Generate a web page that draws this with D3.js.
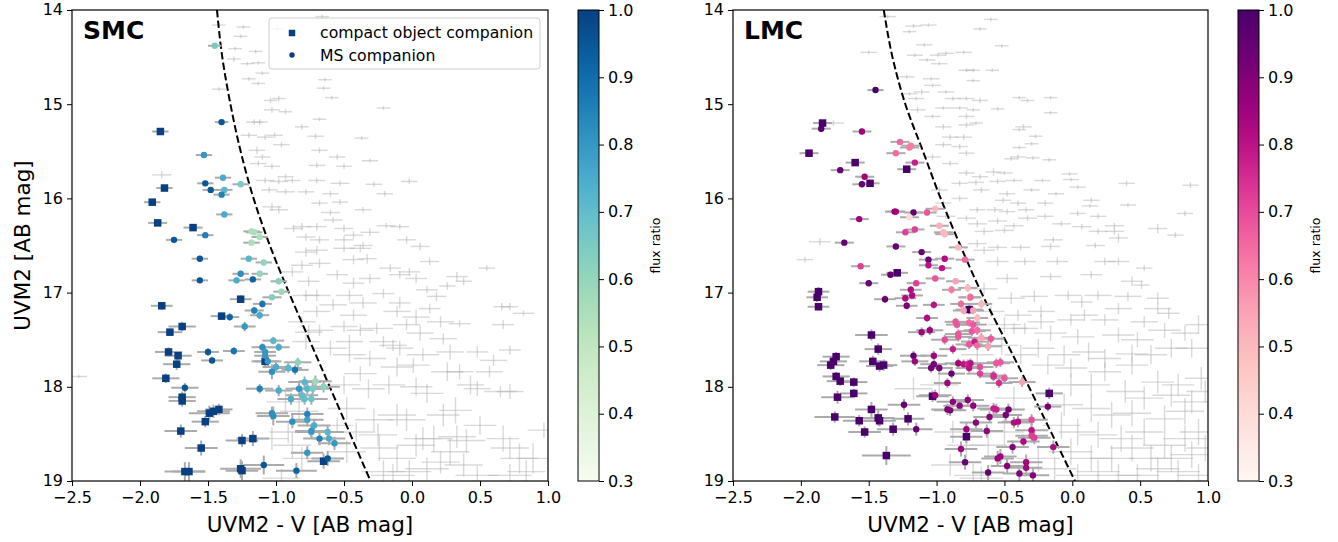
<!DOCTYPE html>
<html><head><meta charset="utf-8">
<script src="https://cdn.jsdelivr.net/npm/d3@7"></script>
<style>body{margin:0;background:#fff}svg{display:block}text{font-family:"DejaVu Sans",sans-serif;fill:#000}</style>
</head><body><svg id="c" width="1338" height="542"></svg>
<script>
const xDomain=[-2.5,1.0], yDomain=[14,19], cbDomain=[0.3,1.0];
const xTicks=[-2.5,-2.0,-1.5,-1.0,-0.5,0.0,0.5,1.0];
const yTicks=[14,15,16,17,18,19];
const cbTicks=[0.3,0.4,0.5,0.6,0.7,0.8,0.9,1.0];
const panelTitles=["SMC","LMC"];
const legendLabels=["compact object companion","MS companion"];
const xLabel="UVM2 - V [AB mag]", yLabel="UVM2 [AB mag]", cbLabel="flux ratio";

// dashed boundary lines [UVM2, UVM2-V]
const smcLine=[[14,-1.434],[14.5,-1.395],[15,-1.335],[15.5,-1.26],[16,-1.165],[16.5,-1.045],[17,-0.905],[17.5,-0.755],[18,-0.605],[18.5,-0.455],[19,-0.305]];
const lmcLine=[[14,-1.389],[14.5,-1.325],[15,-1.23],[15.5,-1.10],[16,-0.97],[16.5,-0.825],[17,-0.67],[17.5,-0.495],[18,-0.32],[18.5,-0.15],[19,0.02]];

// compact object companions [x, y, flux, xerr, yerr]
const smcCompact=[[-1.85,15.29,1,.06,.03],[-1.82,15.89,1,.06,.03],[-1.91,16.04,1,.06,.03],[-1.87,16.26,1,.07,.03],[-1.61,16.31,1,.07,.03],[-1.26,17.07,1,.08,.04],[-1.84,17.14,1,.08,.04],[-1.40,17.25,1,.08,.04],[-1.69,17.36,1,.1,.05],[-1.78,17.42,1,.09,.04],[-1.79,17.63,1,.1,.05],[-1.72,17.67,1,.1,.05],[-1.73,17.76,1,.1,.06],[-1.08,17.73,1,.1,.06],[-1.81,17.91,1,.1,.05],[-1.69,18.11,1,.1,.06],[-1.69,18.15,1,.1,.06],[-1.49,18.28,1,.15,.08],[-1.46,18.26,1,.12,.07],[-1.42,18.24,1,.1,.06],[-1.52,18.37,1,.1,.06],[-1.70,18.47,1,.12,.07],[-1.55,18.65,1,.12,.08],[-1.25,18.57,1,.12,.07],[-1.17,18.55,1,.12,.08],[-1.67,18.90,1,.15,.1],[-1.64,18.90,1,.12,.1],[-1.26,18.87,1,.15,.1],[-1.25,18.89,1,.12,.1],[-0.65,18.79,1,.12,.08]];
const lmcCompact=[[-1.84,15.20,1,.07,.03],[-1.94,15.52,1,.07,.03],[-1.60,15.62,1,.07,.03],[-1.22,15.69,1,.07,.03],[-1.49,15.84,1,.07,.03],[-1.29,16.79,1,.08,.04],[-1.87,16.99,1,.08,.05],[-1.88,17.05,1,.08,.05],[-1.87,17.15,1,.08,.04],[-0.76,17.18,1,.1,.05],[-1.48,17.45,1,.12,.06],[-1.43,17.60,1,.1,.06],[-1.47,17.73,1,.1,.06],[-1.42,17.78,1,.1,.06],[-1.39,17.77,1,.1,.06],[-1.74,17.68,1,.1,.05],[-1.76,17.73,1,.1,.05],[-1.78,17.77,1,.1,.05],[-1.74,17.89,1,.1,.05],[-1.71,17.94,1,.1,.05],[-1.61,17.95,1,.1,.05],[-1.61,18.07,1,.1,.05],[-1.73,18.11,1,.12,.07],[-1.75,18.32,1,.15,.06],[-1.48,18.24,1,.12,.08],[-1.57,18.36,1,.12,.06],[-1.43,18.33,1,.12,.08],[-1.42,18.36,1,.12,.06],[-1.53,18.48,1,.12,.06],[-1.32,18.45,1,.12,.07],[-1.21,18.34,1,.12,.07],[-1.37,18.73,1,.18,.1],[-1.03,18.10,1,.12,.06],[-0.78,18.53,1,.12,.07],[-0.17,18.07,1,.1,.06]];

// main-sequence companions [x, y, flux, xerr, yerr]
const smcMS=[[-1.45,14.38,.65,.05,.02],[-1.40,15.19,.95,.05,.02],[-1.53,15.54,.80,.06,.03],[-1.39,15.78,.75,.06,.03],[-1.52,15.84,.95,.06,.03],[-1.26,15.85,.65,.06,.03],[-1.48,15.91,.95,.06,.03],[-1.38,15.91,.72,.06,.03],[-1.40,15.96,.85,.06,.03],[-1.38,16.17,.75,.06,.03],[-1.52,16.39,.85,.06,.03],[-1.75,16.44,.95,.06,.03],[-1.18,16.35,.55,.06,.03],[-1.16,16.36,.55,.06,.03],[-1.12,16.41,.55,.06,.03],[-1.18,16.47,.55,.06,.03],[-1.56,16.64,.95,.06,.03],[-1.20,16.64,.72,.06,.03],[-1.09,16.68,.6,.06,.03],[-1.56,16.87,.95,.06,.03],[-1.26,16.80,.82,.06,.03],[-1.29,16.87,.75,.06,.03],[-1.17,16.86,.92,.06,.03],[-1.12,16.80,.6,.06,.03],[-0.98,16.88,.62,.06,.03],[-0.96,16.99,.58,.06,.03],[-1.03,17.05,.63,.07,.03],[-1.10,17.12,.88,.07,.04],[-1.16,17.19,.85,.07,.04],[-1.12,17.24,.75,.07,.04],[-1.34,17.26,.92,.07,.04],[-1.23,17.36,.8,.08,.05],[-1.50,17.63,.95,.08,.04],[-1.47,17.72,.95,.08,.04],[-1.31,17.62,.88,.08,.04],[-1.10,17.58,.82,.08,.04],[-1.02,17.51,.72,.08,.04],[-0.98,17.58,.75,.08,.04],[-1.08,17.63,.8,.08,.04],[-1.08,17.67,.8,.08,.04],[-1.06,17.73,.8,.1,.05],[-1.00,17.79,.75,.1,.05],[-1.03,17.84,.82,.1,.08],[-0.91,17.80,.72,.1,.05],[-0.86,17.82,.88,.1,.05],[-0.84,17.74,.62,.1,.05],[-1.67,18.01,.95,.1,.05],[-1.12,18.02,.85,.1,.05],[-0.98,18.04,.75,.1,.06],[-0.89,18.13,.75,.1,.06],[-0.83,18.02,.8,.1,.06],[-0.81,18.09,.7,.12,.06],[-0.79,18.13,.7,.12,.06],[-0.79,17.95,.72,.12,.06],[-0.77,18.02,.72,.12,.06],[-1.03,18.28,.82,.12,.07],[-1.02,18.31,.82,.12,.1],[-0.77,18.29,.85,.12,.07],[-0.77,18.35,.78,.12,.07],[-0.88,18.37,.82,.12,.07],[-0.74,18.48,.75,.12,.07],[-0.77,18.70,.8,.12,.07],[-1.09,18.83,.95,.15,.1],[-0.85,18.89,.92,.15,.08],[-0.71,17.94,.58,.12,.06],[-0.73,18.02,.65,.12,.06],[-0.65,18.00,.62,.12,.06],[-0.74,18.13,.68,.12,.06],[-0.72,18.41,.75,.12,.07],[-0.74,18.47,.8,.12,.07],[-0.62,18.48,.72,.12,.07],[-0.68,18.55,.85,.12,.07],[-0.61,18.55,.75,.12,.07],[-0.57,18.60,.8,.12,.07],[-0.62,18.76,.95,.12,.08]];
const lmcMS=[[-1.45,14.85,1.0,.06,.02],[-1.85,15.26,.98,.07,.03],[-1.55,15.29,.85,.07,.03],[-1.27,15.40,.65,.07,.03],[-1.19,15.44,.62,.07,.03],[-1.20,15.46,.62,.07,.03],[-1.30,15.52,.65,.07,.03],[-1.16,15.62,.78,.07,.03],[-1.71,15.70,.95,.07,.03],[-1.53,15.77,.85,.07,.03],[-1.55,15.85,.95,.07,.03],[-1.31,16.14,.85,.07,.03],[-1.30,16.14,.85,.07,.03],[-1.17,16.15,.95,.07,.03],[-1.07,16.15,.68,.07,.03],[-1.01,16.11,.5,.07,.03],[-1.20,16.20,.4,.07,.03],[-1.57,16.22,.85,.07,.03],[-1.16,16.33,.72,.07,.03],[-1.23,16.36,.72,.07,.03],[-0.98,16.29,.52,.07,.03],[-0.95,16.36,.5,.07,.03],[-0.94,16.38,.5,.07,.03],[-1.68,16.47,.95,.07,.03],[-1.30,16.51,.95,.07,.03],[-0.84,16.52,.5,.07,.03],[-1.11,16.57,.95,.07,.03],[-1.06,16.65,.95,.07,.03],[-0.94,16.64,.82,.07,.03],[-0.79,16.65,.65,.07,.03],[-1.56,16.72,.72,.07,.03],[-1.06,16.71,.8,.07,.03],[-0.96,16.74,.8,.07,.03],[-1.34,16.81,.95,.07,.03],[-1.01,16.85,.68,.07,.03],[-1.15,16.90,.72,.07,.03],[-1.50,16.90,.95,.07,.03],[-0.86,16.88,.55,.07,.03],[-0.89,16.97,.62,.07,.04],[-0.77,16.95,.5,.07,.04],[-1.19,16.97,.82,.08,.04],[-1.18,17.03,.82,.08,.04],[-1.23,17.06,.82,.08,.04],[-1.38,17.07,.95,.08,.04],[-1.22,17.14,.92,.08,.04],[-1.02,17.13,.8,.08,.04],[-0.82,17.12,.65,.08,.04],[-0.80,17.19,.55,.08,.04],[-0.76,17.05,.45,.08,.04],[-1.07,17.27,.82,.08,.04],[-0.86,17.31,.68,.08,.04],[-0.85,17.34,.68,.08,.04],[-0.76,17.32,.65,.08,.04],[-1.11,17.42,.85,.1,.05],[-1.05,17.40,.85,.1,.05],[-0.84,17.44,.68,.1,.05],[-0.84,17.47,.68,.1,.05],[-0.94,17.50,.7,.1,.05],[-0.76,17.55,.68,.1,.05],[-0.88,17.60,.78,.1,.05],[-0.67,17.12,.5,.08,.04],[-0.75,17.05,.65,.08,.04],[-0.73,17.19,.55,.08,.04],[-0.70,17.27,.5,.08,.04],[-0.73,17.34,.68,.1,.05],[-0.74,17.41,.68,.1,.05],[-0.70,17.40,.65,.1,.05],[-0.67,17.48,.55,.1,.05],[-0.72,17.52,.78,.1,.05],[-0.70,17.56,.65,.1,.05],[-0.62,17.57,.55,.1,.05],[-0.60,17.49,.68,.1,.05],[-1.17,17.67,.95,.1,.05],[-1.16,17.73,.85,.1,.05],[-1.02,17.67,.85,.1,.05],[-1.02,17.76,.92,.1,.05],[-1.04,17.80,.92,.1,.05],[-0.98,17.80,.92,.1,.05],[-0.89,17.86,.95,.1,.05],[-0.92,17.96,.85,.1,.05],[-0.84,17.75,.85,.1,.05],[-0.80,17.76,.8,.1,.05],[-0.77,17.76,.75,.1,.05],[-0.76,17.80,.8,.1,.05],[-0.75,17.75,.8,.1,.05],[-0.68,17.79,.7,.1,.05],[-0.56,17.75,.68,.1,.05],[-0.53,17.74,.68,.1,.05],[-0.68,17.86,.72,.1,.05],[-0.58,17.88,.75,.1,.05],[-0.58,17.89,.75,.1,.05],[-0.50,17.91,.68,.1,.05],[-0.54,17.96,.75,.1,.05],[-0.37,17.95,.55,.1,.05],[-1.24,18.19,.95,.12,.06],[-1.01,18.09,.85,.12,.06],[-0.88,18.16,.88,.12,.06],[-0.92,18.24,.9,.12,.06],[-0.90,18.25,.9,.12,.06],[-0.83,18.20,.88,.12,.06],[-0.77,18.14,.88,.12,.06],[-0.73,18.20,.88,.12,.06],[-0.58,18.23,.78,.12,.06],[-0.56,18.24,.78,.12,.06],[-0.47,18.24,.92,.12,.06],[-0.49,18.30,.92,.12,.06],[-0.71,18.38,.88,.12,.06],[-0.61,18.32,.88,.12,.06],[-0.43,18.38,.82,.12,.06],[-0.40,18.37,.82,.12,.06],[-0.30,18.35,.7,.12,.06],[-0.18,18.21,.92,.1,.05],[-1.15,18.45,.95,.12,.07],[-0.78,18.45,.85,.12,.07],[-0.63,18.47,.88,.12,.07],[-0.30,18.46,.8,.12,.07],[-0.30,18.52,.72,.12,.07],[-0.28,18.54,.72,.12,.07],[-0.36,18.58,.82,.12,.07],[-0.44,18.64,.9,.12,.07],[-0.14,18.64,.82,.12,.07],[-0.82,18.66,.85,.12,.08],[-0.55,18.76,.85,.12,.08],[-0.53,18.74,.85,.12,.08],[-0.79,18.80,.95,.12,.08],[-0.34,18.80,.85,.12,.08],[-0.48,18.84,.9,.12,.08],[-0.34,18.86,.85,.12,.08],[-0.62,18.91,.95,.12,.08],[-0.39,18.92,.9,.12,.08],[-0.29,18.94,.9,.12,.08]];

// field sources (grey error crosses) [x, y, xerr, yerr]
const smcField=[[-1.42,14.16,.05,.02],[-1.24,14.18,.05,.02],[-1.26,14.28,.05,.02],[-0.99,14.20,.05,.02],[-1.30,14.41,.05,.02],[-1.15,14.44,.05,.02],[-1.31,14.52,.05,.03],[-1.21,14.57,.05,.02],[-1.13,14.56,.05,.02],[-1.10,14.67,.05,.02],[-1.20,14.73,.05,.02],[-1.13,14.78,.05,.02],[-1.42,14.84,.05,.02],[-1.04,14.96,.05,.03],[-0.98,14.94,.05,.03],[-1.03,15.06,.06,.03],[-1.16,15.19,.06,.03],[-1.12,15.19,.06,.03],[-0.93,15.08,.05,.03],[-0.81,15.24,.05,.03],[-1.20,15.33,.06,.03],[-1.08,15.35,.06,.03],[-1.01,15.33,.06,.03],[-0.96,15.43,.06,.03],[-1.14,15.49,.06,.04],[-1.10,15.56,.06,.03],[-1.13,15.63,.06,.03],[-1.03,15.66,.06,.03],[-0.93,15.77,.06,.03],[-1.08,15.81,.07,.03],[-0.98,15.82,.07,.03],[-0.88,15.81,.06,.03],[-1.05,15.91,.06,.03],[-0.93,15.93,.07,.03],[-0.78,15.93,.06,.03],[-1.03,16.09,.07,.04],[-0.98,16.12,.07,.04],[-0.87,16.32,.07,.04],[-0.81,16.30,.07,.04],[-0.78,16.41,.07,.04],[-1.84,15.75,.07,.04],
[-0.66,14.07,.05,.02],[-0.64,14.74,.05,.02],[-0.65,14.83,.05,.02],[-0.59,14.93,.05,.02],[-0.21,15.04,.05,.02],[-0.68,15.16,.05,.02],[-0.71,15.34,.06,.03],[-0.37,15.36,.05,.02],[-0.68,15.49,.06,.03],[-0.55,15.56,.06,.03],[-0.31,15.60,.06,.02],[-0.50,15.66,.06,.03],[-0.70,15.65,.06,.03],[-0.70,15.81,.06,.03],[-0.53,15.84,.07,.03],[-0.28,15.85,.06,.03],[-0.02,15.82,.06,.03],[-0.60,15.95,.06,.03],[-0.20,15.95,.06,.03],[-0.68,16.05,.06,.03],[-0.53,16.04,.06,.03],[-0.36,16.12,.06,.03],[-0.60,16.15,.07,.03],[-0.58,16.23,.07,.03],[-0.70,16.30,.07,.04],[-0.19,16.29,.07,.03],[-0.09,16.30,.07,.03],[-0.50,16.32,.07,.04],[-0.31,16.36,.07,.04],[-0.43,16.39,.07,.04],[-0.68,16.44,.07,.04],[-0.50,16.44,.07,.04],[-0.36,16.50,.07,.04],[-0.04,16.44,.07,.04],[0.06,16.51,.07,.04],
[-0.70,16.55,.08,.05],[-0.50,16.53,.08,.04],[-0.38,16.53,.08,.04],[-0.68,16.69,.08,.05],[-0.43,16.65,.08,.05],[-0.33,16.64,.07,.05],[-0.16,16.74,.08,.04],[-0.02,16.78,.08,.04],[0.13,16.67,.07,.04],[0.55,16.74,.06,.03],[-0.55,16.81,.08,.05],[-0.43,16.90,.08,.06],[-0.31,16.85,.08,.05],[-0.09,16.81,.08,.04],[0.03,16.85,.08,.05],[0.33,16.83,.08,.05],[0.26,16.93,.06,.04],[0.38,16.88,.06,.04],[-0.70,17.03,.1,.06],[-0.46,17.03,.1,.06],[-0.21,17.01,.08,.05],[0.11,16.97,.08,.04],[0.18,17.04,.07,.05],[-0.58,17.13,.1,.06],[-0.36,17.11,.1,.06],[-0.09,17.11,.08,.06],[0.13,17.17,.08,.05],[0.66,17.15,.06,.04],[0.72,17.15,.06,.04],[0.82,17.22,.08,.03],[-0.70,17.20,.1,.06],[-0.43,17.24,.1,.06],[-0.11,17.20,.1,.06],[0.03,17.26,.1,.08],[0.21,17.31,.1,.06],[0.35,17.33,.08,.04],[0.67,17.34,.08,.05],[-0.68,17.40,.1,.06],[-0.50,17.36,.1,.06],[-0.38,17.40,.1,.06],[-0.26,17.38,.12,.06],[-0.04,17.34,.1,.06],[0.06,17.43,.1,.08],[0.23,17.49,.1,.06],[-0.46,17.52,.1,.07],[-0.21,17.52,.1,.06],[-0.14,17.56,.1,.06],[-0.09,17.59,.1,.08],[0.08,17.66,.12,.07],[0.28,17.63,.1,.08],[0.48,17.63,.08,.06],[0.60,17.72,.1,.06],[0.72,17.61,.08,.05],[-0.46,17.66,.12,.08],[-0.31,17.70,.12,.08],[-0.60,17.59,.12,.08],[-0.38,17.86,.12,.08],[-0.11,17.79,.12,.1],[0.01,17.77,.12,.08],[0.26,17.84,.12,.1],[0.35,17.84,.1,.08],[0.57,17.84,.1,.06],[-0.50,17.98,.12,.1],[-0.32,18.02,.12,.1],[-0.17,17.98,.12,.1],[0.03,18.00,.12,.1],[0.11,18.07,.12,.1],[0.43,17.98,.1,.1],[0.48,18.02,.1,.08],[0.65,18.05,.12,.06],[0.72,18.05,.1,.08],[-0.48,18.23,.14,.12],[-0.28,18.35,.14,.12],[-0.11,18.30,.14,.12],[-0.04,18.35,.14,.12],[0.23,18.30,.12,.12],[0.32,18.25,.12,.14],[0.50,18.41,.12,.1],[-0.55,18.41,.12,.08],[-0.41,18.48,.14,.1],[-0.25,18.51,.14,.12],[0.08,18.55,.14,.12],[0.16,18.55,.14,.14],[0.33,18.53,.14,.12],[0.40,18.57,.14,.12],[0.67,18.55,.12,.14],[0.97,18.46,.12,.08],[-0.48,18.69,.14,.12],[-0.24,18.65,.14,.14],[-0.11,18.76,.14,.14],[0.03,18.62,.14,.12],[0.21,18.80,.14,.12],[0.28,18.69,.14,.14],[0.38,18.83,.14,.12],[0.72,18.65,.14,.12],[0.79,18.76,.14,.16],[0.89,18.76,.12,.16],[-0.21,18.90,.16,.12],[-0.14,18.94,.16,.12],[-0.02,18.90,.16,.12],[0.11,18.87,.16,.12],[0.48,18.94,.16,.1],[0.72,18.94,.16,.12],[0.84,18.90,.14,.12],
[-0.78,16.57,.08,.05],[-0.81,16.71,.08,.05],[-0.88,16.78,.08,.05],[-0.76,16.88,.08,.05],[-0.78,17.03,.1,.06],[-0.81,17.31,.1,.06],[-0.76,17.42,.1,.08],[-0.78,17.52,.1,.08],[-0.93,18.16,.14,.12],[-0.83,18.26,.14,.12],[-0.91,18.48,.14,.12],[-1.03,18.55,.12,.12],[-0.88,18.62,.14,.14],[-0.81,18.76,.14,.12],[-0.96,18.97,.14,.1],[-2.45,17.89,.06,.02]];
const lmcField=[[-1.36,14.07,.06,.02],[-1.17,14.17,.06,.02],[-1.06,14.16,.06,.02],[-1.20,14.23,.05,.02],[-1.50,14.45,.06,.02],[-1.16,14.48,.06,.02],[-1.09,14.37,.06,.02],[-0.99,14.48,.06,.02],[-0.93,14.46,.06,.02],[-0.80,14.45,.06,.02],[-1.07,14.53,.06,.02],[-0.98,14.57,.06,.02],[-0.78,14.64,.06,.02],[-1.22,14.71,.06,.02],[-1.04,14.73,.06,.02],[-1.03,14.80,.06,.02],[-1.11,14.87,.06,.03],[-1.20,14.89,.06,.02],[-1.15,14.94,.06,.02],[-0.93,14.87,.06,.02],[-0.88,14.94,.06,.02],[-0.78,14.94,.06,.02],[-1.14,15.06,.06,.03],[-0.95,15.04,.06,.02],[-0.83,15.04,.06,.02],[-1.03,15.13,.06,.02],[-0.78,15.13,.06,.03],[-0.95,15.24,.06,.03],[-0.78,15.22,.06,.03],[-0.90,15.35,.06,.03],[-0.80,15.35,.06,.03],[-0.95,15.43,.06,.03],[-0.83,15.45,.06,.03],[-0.78,15.52,.06,.03],[-1.03,15.56,.06,.03],[-0.90,15.63,.06,.03],[-0.78,15.73,.06,.03],[-0.98,15.91,.06,.03],[-0.83,15.84,.06,.03],[-0.95,16.05,.06,.03],[-0.83,16.00,.06,.03],[-0.93,16.19,.07,.03],[-0.78,16.21,.07,.03],[-1.76,15.20,.08,.03],[-1.86,16.46,.08,.04],
[-0.60,14.10,.05,.02],[-0.68,14.20,.05,.02],[-0.52,14.38,.05,.02],[-0.59,14.64,.05,.02],[-0.73,14.64,.05,.02],[-0.73,14.75,.05,.02],[-0.68,14.96,.06,.03],[-0.39,14.93,.05,.02],[-0.33,14.96,.05,.02],[-0.16,14.93,.05,.02],[-0.55,15.05,.05,.02],[-0.16,15.09,.05,.02],[-0.73,15.06,.05,.02],[-0.71,15.20,.05,.02],[-0.36,15.24,.06,.03],[-0.39,15.27,.05,.02],[-0.27,15.34,.05,.02],[-0.39,15.46,.05,.02],[-0.30,15.42,.05,.02],[-0.40,15.56,.06,.03],[-0.29,15.57,.05,.02],[-0.17,15.59,.05,.02],[-0.45,15.58,.05,.02],[-0.58,15.72,.06,.04],[-0.50,15.73,.06,.02],[-0.68,15.77,.06,.03],[-0.02,15.74,.06,.02],[-0.01,15.80,.06,.02],[0.40,15.84,.06,.03],[0.87,15.86,.06,.03],[-0.71,15.83,.06,.03],[-0.55,15.82,.06,.03],[-0.43,15.81,.06,.02],[-0.22,15.81,.06,.02],[0.04,15.88,.06,.02],[-0.67,15.91,.06,.03],[-0.48,15.95,.06,.03],[-0.30,15.91,.06,.02],[-0.12,15.95,.06,.02],[-0.51,16.02,.06,.03],[-0.40,16.05,.06,.03],[-0.20,16.05,.06,.03],[0.14,16.02,.06,.03],[0.13,16.08,.06,.02],[0.41,16.07,.06,.02],[-0.70,16.12,.06,.03],[-0.57,16.12,.06,.03],[-0.48,16.14,.06,.03],[-0.34,16.12,.06,.03],[-0.20,16.19,.06,.03],[0.04,16.16,.06,.03],[0.19,16.19,.06,.03],[0.83,16.16,.06,.03],[-0.70,16.27,.07,.04],[-0.55,16.24,.07,.03],[-0.43,16.29,.07,.03],[-0.33,16.21,.07,.03],[-0.08,16.27,.07,.03],[0.07,16.30,.07,.03],[0.31,16.29,.07,.03],[0.63,16.32,.07,.05],[0.76,16.39,.06,.03],[-0.65,16.35,.07,.04],[-0.50,16.34,.07,.03],[0.19,16.35,.07,.03],[0.31,16.35,.07,.04],[-0.14,16.44,.07,.03],[0.17,16.50,.07,.03],[-0.70,16.48,.07,.04],[-0.55,16.52,.07,.03],[-0.38,16.52,.07,.03],[0.34,16.42,.07,.05],
[-0.65,16.55,.08,.04],[-0.16,16.51,.07,.04],[-0.55,16.67,.08,.05],[-0.35,16.67,.08,.04],[-0.11,16.67,.08,.04],[0.24,16.67,.08,.04],[0.34,16.67,.08,.04],[0.53,16.74,.06,.03],[-0.48,16.85,.08,.05],[-0.16,16.83,.08,.04],[0.14,16.81,.08,.04],[0.44,16.88,.08,.05],[0.51,16.92,.06,.04],[-0.45,17.06,.1,.06],[-0.28,17.04,.1,.06],[-0.03,17.03,.1,.05],[0.07,17.10,.08,.06],[0.19,17.03,.1,.05],[0.41,17.04,.1,.05],[0.63,17.06,.08,.06],[0.63,17.17,.1,.06],[0.34,17.17,.1,.06],[-0.23,17.20,.1,.06],[-0.40,17.24,.1,.06],[-0.23,17.31,.1,.08],[-0.01,17.29,.1,.06],[0.09,17.24,.1,.06],[0.24,17.29,.1,.06],[0.53,17.31,.1,.06],[0.71,17.22,.08,.06],[-0.43,17.38,.1,.06],[-0.35,17.38,.1,.06],[-0.16,17.43,.12,.08],[0.04,17.47,.12,.08],[0.34,17.45,.12,.08],[0.48,17.50,.12,.08],[0.68,17.40,.12,.08],[0.83,17.43,.1,.08],[0.93,17.34,.1,.1],[-0.25,17.59,.12,.1],[-0.06,17.66,.12,.1],[0.12,17.63,.12,.1],[0.24,17.70,.12,.1],[0.44,17.65,.12,.1],[0.58,17.66,.12,.1],[0.73,17.59,.12,.1],[0.88,17.59,.12,.1],[-0.18,17.77,.12,.1],[-0.01,17.80,.12,.1],[0.24,17.84,.12,.1],[0.44,17.77,.12,.1],[0.63,17.95,.12,.12],[0.78,17.98,.12,.12],[0.95,17.91,.12,.12],[-0.01,17.98,.14,.12],[0.14,17.98,.14,.12],[0.39,18.05,.14,.12],[0.53,18.12,.14,.12],[0.73,18.09,.14,.12],[0.88,18.16,.14,.12],[0.98,18.05,.14,.12],[-0.06,18.19,.14,.12],[0.14,18.23,.14,.14],[0.29,18.30,.14,.14],[0.44,18.28,.14,.14],[0.68,18.34,.14,.14],[0.83,18.26,.14,.14],[-0.08,18.41,.14,.14],[0.04,18.48,.14,.14],[0.19,18.51,.14,.14],[0.36,18.55,.16,.14],[0.53,18.48,.14,.14],[0.68,18.62,.16,.14],[0.83,18.55,.16,.14],[0.93,18.48,.14,.14],[-0.01,18.69,.16,.14],[0.14,18.76,.16,.14],[0.29,18.76,.16,.14],[0.44,18.65,.16,.14],[0.58,18.76,.16,.14],[0.73,18.76,.16,.14],[0.88,18.72,.16,.14],[0.98,18.65,.14,.14],[0.04,18.94,.16,.12],[0.19,18.90,.16,.12],[0.34,18.94,.16,.12],[0.48,18.94,.16,.12],[0.63,18.87,.16,.12],[0.78,18.90,.16,.12],[0.93,18.94,.16,.12],
[-1.97,16.65,.06,.03],[-1.17,18.02,.14,.12],[-0.98,17.98,.14,.12],[-0.88,18.48,.14,.12],[-0.78,18.62,.14,.14],[-0.90,18.83,.14,.12],[-0.73,18.94,.14,.12],[-0.65,16.96,.1,.06],[-0.60,17.20,.1,.06],[-0.50,17.34,.12,.08],[-0.70,17.66,.12,.1],[-0.52,17.56,.12,.1],[-0.38,17.66,.12,.1],[-0.43,18.12,.14,.12],[-0.50,18.48,.14,.14],[-0.62,18.62,.14,.14],[-0.25,18.76,.16,.14],[-0.13,18.87,.16,.12],[-0.67,18.97,.16,.12]];

const svg=d3.select('#c');
const Y0=10, Y1=481;
const panels=[
 {title:panelTitles[0],x0:72,x1:548,cb0:578,interp:d3.interpolateGnBu,compact:smcCompact,ms:smcMS,field:smcField,line:smcLine,legend:true,ylab:true},
 {title:panelTitles[1],x0:733,x1:1208,cb0:1238,interp:d3.interpolateRdPu,compact:lmcCompact,ms:lmcMS,field:lmcField,line:lmcLine,legend:false,ylab:false}
];
const fmtX=d=>d3.format('.1f')(d).replace('-','\u2212');

panels.forEach((p,i)=>{
  const x=d3.scaleLinear().domain(xDomain).range([p.x0,p.x1]);
  const y=d3.scaleLinear().domain(yDomain).range([Y0,Y1]);
  const col=d3.scaleSequential(p.interp).domain(cbDomain);
  const g=svg.append('g');
  const cid='clip'+i;
  svg.append('clipPath').attr('id',cid).append('rect').attr('x',p.x0).attr('y',Y0).attr('width',p.x1-p.x0).attr('height',Y1-Y0);
  const pg=g.append('g').attr('clip-path',`url(#${cid})`);
  // field crosses
  const fg=pg.append('g').attr('stroke','#b4b4b4').attr('stroke-opacity',0.5).attr('stroke-width',1.4);
  p.field.forEach(d=>{
    fg.append('line').attr('x1',x(d[0]-d[2])).attr('x2',x(d[0]+d[2])).attr('y1',y(d[1])).attr('y2',y(d[1]));
    fg.append('line').attr('x1',x(d[0])).attr('x2',x(d[0])).attr('y1',y(d[1]-d[3])).attr('y2',y(d[1]+d[3]));
  });
  // dashed line
  pg.append('path').datum(p.line).attr('fill','none').attr('stroke','#000').attr('stroke-width',2)
    .attr('stroke-dasharray','7.4,3.2')
    .attr('d',d3.line().curve(d3.curveMonotoneY).x(d=>x(d[1])).y(d=>y(d[0])));
  // colored error bars
  const all=p.compact.concat(p.ms);
  const eg=pg.append('g').attr('stroke','#ababab').attr('stroke-width',2);
  all.forEach(d=>{
    eg.append('line').attr('x1',x(d[0]-d[3])).attr('x2',x(d[0]+d[3])).attr('y1',y(d[1])).attr('y2',y(d[1]));
    eg.append('line').attr('x1',x(d[0])).attr('x2',x(d[0])).attr('y1',y(d[1]-d[4])).attr('y2',y(d[1]+d[4]));
  });
  const s=7.5;
  pg.append('g').selectAll('rect').data(p.compact).join('rect')
    .attr('x',d=>x(d[0])-s/2).attr('y',d=>y(d[1])-s/2).attr('width',s).attr('height',s).attr('fill',d=>col(d[2]));
  pg.append('g').selectAll('circle').data(p.ms).join('circle')
    .attr('cx',d=>x(d[0])).attr('cy',d=>y(d[1])).attr('r',3.2).attr('fill',d=>col(d[2]));
  // axes
  const ax=g.append('g').attr('transform',`translate(0,${Y1})`).call(d3.axisBottom(x).tickValues(xTicks).tickFormat(fmtX).tickSize(5).tickPadding(6));
  const ay=g.append('g').attr('transform',`translate(${p.x0},0)`).call(d3.axisLeft(y).tickValues(yTicks).tickFormat(d3.format('d')).tickSize(5).tickPadding(4));
  [ax,ay].forEach(a=>{a.select('.domain').remove();a.selectAll('text').attr('font-size',16).attr('font-family','DejaVu Sans');a.selectAll('line').attr('stroke','#000').attr('stroke-width',1);});
  ay.selectAll('text').attr('dy','0.3em');
  g.append('rect').attr('x',p.x0).attr('y',Y0).attr('width',p.x1-p.x0).attr('height',Y1-Y0).attr('fill','none').attr('stroke','#000').attr('stroke-width',1.2);
  g.append('text').attr('x',p.x0+11).attr('y',39).attr('font-size',25).attr('font-weight','bold').text(p.title);
  g.append('text').attr('x',(p.x0+p.x1)/2).attr('y',532).attr('text-anchor','middle').attr('font-size',21.5).text(xLabel);
  if(p.ylab) g.append('text').attr('transform',`translate(30,${(Y0+Y1)/2}) rotate(-90)`).attr('text-anchor','middle').attr('font-size',21.5).text(yLabel);
  // legend
  if(p.legend){
    const lg=g.append('g');
    lg.append('rect').attr('x',269).attr('y',18).attr('width',271).attr('height',51).attr('rx',3).attr('fill','#fff').attr('fill-opacity',0.8).attr('stroke','#cccccc');
    lg.append('rect').attr('x',292-3.25).attr('y',33-3.25).attr('width',6.5).attr('height',6.5).attr('fill',col(1));
    lg.append('circle').attr('cx',292).attr('cy',55).attr('r',2.7).attr('fill',col(1));
    lg.append('text').attr('x',320).attr('y',38).attr('font-size',15.7).text(legendLabels[0]);
    lg.append('text').attr('x',320).attr('y',61).attr('font-size',15.7).text(legendLabels[1]);
  }
  // colorbar
  const cbw=21;
  const gid='grad'+i;
  const grad=svg.append('defs').append('linearGradient').attr('id',gid).attr('x1',0).attr('y1',1).attr('x2',0).attr('y2',0);
  d3.range(0,1.0001,0.02).forEach(t=>grad.append('stop').attr('offset',t).attr('stop-color',p.interp(t)));
  g.append('rect').attr('x',p.cb0).attr('y',Y0).attr('width',cbw).attr('height',Y1-Y0).attr('fill',`url(#${gid})`).attr('stroke','#000').attr('stroke-width',1);
  const cy=d3.scaleLinear().domain(cbDomain).range([Y1,Y0]);
  const ac=g.append('g').attr('transform',`translate(${p.cb0+cbw},0)`).call(d3.axisRight(cy).tickValues(cbTicks).tickFormat(d3.format('.1f')).tickSize(5).tickPadding(4));
  ac.select('.domain').remove();
  ac.selectAll('text').attr('font-size',16).attr('font-family','DejaVu Sans');
  ac.selectAll('line').attr('stroke','#000');
  g.append('text').attr('transform',`translate(${p.cb0+82},${(Y0+Y1)/2}) rotate(-90)`).attr('text-anchor','middle').attr('font-size',12.5).text(cbLabel);
});
</script></body></html>
